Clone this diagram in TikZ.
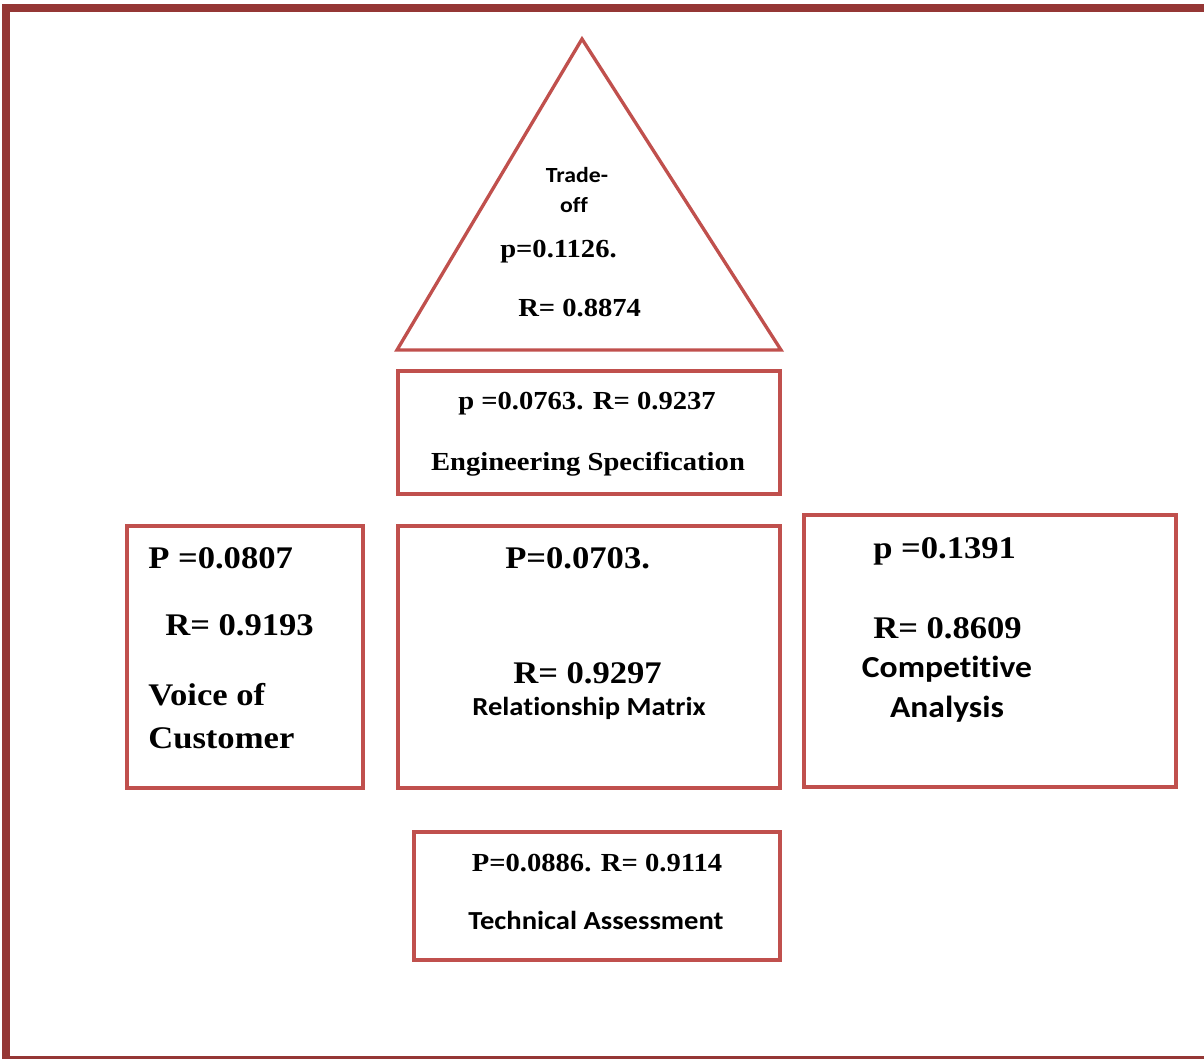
\documentclass[tikz,border=0pt]{standalone}
\usepackage{fontspec}
\setmainfont[FakeStretch=1.1]{Liberation Serif}
\newfontfamily\calibri[FakeStretch=1.1, Ligatures=NoCommon]{Carlito}
\begin{document}
\begin{tikzpicture}[x=0.75pt, y=-0.75pt, line join=miter,
  bigval/.style={font=\fontsize{23.6}{28}\selectfont\bfseries, inner sep=0pt},
  smallval/.style={font=\fontsize{19.5}{23}\selectfont\bfseries, inner sep=0pt},
  sansmid/.style={font=\calibri\fontsize{19.5}{23}\selectfont\bfseries, inner sep=0pt},
  sansbig/.style={font=\calibri\fontsize{22.9}{27}\selectfont\bfseries, inner sep=0pt},
  sanssmall/.style={font=\calibri\fontsize{16.2}{19}\selectfont\bfseries, inner sep=0pt},
  part/.style={draw=shapered, line width=2.5pt}]
  \definecolor{framered}{RGB}{149,55,53}
  \definecolor{shapered}{RGB}{192,80,77}
  \useasboundingbox (0,0) rectangle (1204,1059);
  \clip (0,0) rectangle (1204,1059);
  \draw[framered, line width=6pt] (6,8) rectangle (1240,1060);
  % roof
  \draw[part] (582,39) -- (781,350) -- (397,350) -- cycle;
  \node[sanssmall, anchor=base] (trade) at (577,183) {Trade-};
  \node[sanssmall, anchor=base] (off) at (574,213) {off};
  \node[smallval, anchor=base west] (tp) at (500,258) {p=0.1126.};
  \node[smallval, anchor=base west] (tr) at (518,317) {R= 0.8874};
  % engineering specification
  \draw[part] (398,371) rectangle (780,494);
  \node[smallval, anchor=base] (ep) at (587,410) {p =0.0763. R= 0.9237};
  \node[smallval, anchor=base] (ename) at (588,470) {Engineering Specification};
  % voice of customer
  \draw[part] (127,526) rectangle (363,788);
  \node[bigval, anchor=base west] (vp) at (148,568) {P =0.0807};
  \node[bigval, anchor=base west] (vr) at (165,635) {R= 0.9193};
  \node[bigval, anchor=base west] (vname) at (148,705) {Voice of};
  \node[bigval, anchor=base west] (vname2) at (148,748) {Customer};
  % relationship matrix
  \draw[part] (398,526) rectangle (780,788);
  \node[bigval, anchor=base west] (rp) at (505,568) {P=0.0703.};
  \node[bigval, anchor=base west] (rr) at (513,683) {R= 0.9297};
  \node[sansmid, anchor=base] (rname) at (589,715) {Relationship Matrix};
  % competitive analysis
  \draw[part] (804,515) rectangle (1176,787);
  \node[bigval, anchor=base west] (cp) at (873,558) {p =0.1391};
  \node[bigval, anchor=base west] (cr) at (873,638) {R= 0.8609};
  \node[sansbig, anchor=base] (cname) at (947,677) {Competitive};
  \node[sansbig, anchor=base] (cname2) at (947,717) {Analysis};
  % technical assessment
  \draw[part] (414,832) rectangle (780,960);
  \node[smallval, anchor=base] (ap) at (597,871) {P=0.0886. R= 0.9114};
  \node[sansmid, anchor=base] (aname) at (596,929) {Technical Assessment};
\end{tikzpicture}
\end{document}
